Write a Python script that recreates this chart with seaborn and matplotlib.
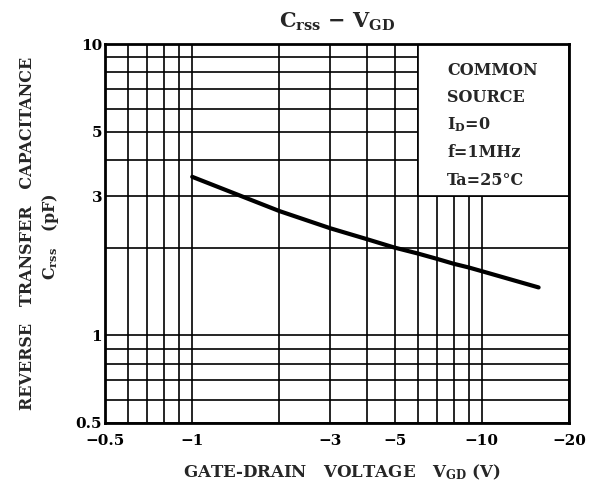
import numpy as np
import pandas as pd
import matplotlib
matplotlib.use("Agg")
import matplotlib.pyplot as plt
import seaborn as sns
from matplotlib.patches import Rectangle

# Crss vs VGD curve
vgd = [-1, -2, -3, -4, -5, -6, -7, -8, -9, -10, -15.7]
crss = [3.5, 2.67, 2.33, 2.14, 2.0, 1.91, 1.83, 1.76, 1.71, 1.66, 1.46]

# log-log paper: grid lines and labelled values
x_grid = [0.6, 0.7, 0.8, 0.9, 1, 2, 3, 4, 5, 6, 7, 8, 9, 10]
x_tick_vals = [0.5, 1, 3, 5, 10, 20]
x_tick_labels = ["−0.5", "−1", "−3", "−5", "−10", "−20"]
y_grid = [0.6, 0.7, 0.8, 0.9, 1, 2, 3, 4, 5, 6, 7, 8, 9]
y_tick_vals = [0.5, 1, 3, 5, 10]
y_tick_labels = ["0.5", "1", "3", "5", "10"]

conditions = ["COMMON", "SOURCE", r"I$_{\rm D}$=0", "f=1MHz", "Ta=25°C"]

sns.set_style("white")
plt.rcParams["font.family"] = ["DejaVu Serif"]
plt.rcParams["font.weight"] = "bold"
plt.rcParams["mathtext.fontset"] = "custom"
plt.rcParams["mathtext.rm"] = "DejaVu Serif:bold"
plt.rcParams["mathtext.it"] = "DejaVu Serif:bold"
plt.rcParams["mathtext.bf"] = "DejaVu Serif:bold"

df = pd.DataFrame({"V": np.abs(vgd), "C": crss})

fig = plt.figure(figsize=(5.94, 4.88), dpi=100)
ax = fig.add_axes([0.1768, 0.1332, 0.7812, 0.7766])

sns.lineplot(data=df, x="V", y="C", color="black", lw=3, ax=ax, zorder=3)

ax.set_xscale("log")
ax.set_yscale("log")
ax.set_xlim(0.5, 20)
ax.set_ylim(0.5, 10)

ax.set_xticks(x_tick_vals, x_tick_labels)
ax.set_xticks(x_grid, [""] * len(x_grid), minor=True)
ax.set_yticks(y_tick_vals, y_tick_labels)
ax.set_yticks(y_grid, [""] * len(y_grid), minor=True)
ax.tick_params(which="both", length=0, labelsize=11, colors="black")
ax.tick_params(axis="x", pad=8)
ax.tick_params(axis="y", pad=2)
ax.set_axisbelow(True)
ax.grid(which="both", color="black", lw=1.2)
for s in ax.spines.values():
    s.set_color("black")
    s.set_linewidth(2)

# white conditions box over the top-right grid
ax.add_patch(Rectangle((6, 3), 14, 7, facecolor="white", edgecolor="black",
                       lw=1.2, zorder=1))
for i, txt in enumerate(conditions):
    ax.text(0.737, 0.931 - i * 0.0725, txt, transform=ax.transAxes,
            fontsize=11.5, fontweight="bold", va="center", ha="left")

ax.set_xlabel(r"GATE-DRAIN   VOLTAGE   V$_{\rm GD}$ (V)", fontsize=12,
              fontweight="bold")
ax.xaxis.set_label_coords(0.51, -0.105)
ax.set_ylabel("")

fig.text(0.567, 0.955, r"C$_{\rm rss}$ $-$ V$_{\rm GD}$", fontsize=15,
         ha="center", va="center")
fig.text(0.046, 0.522, "REVERSE   TRANSFER   CAPACITANCE", rotation=90,
         fontsize=11.5, fontweight="bold", ha="center", va="center")
fig.text(0.085, 0.515, r"C$_{\rm rss}$   (pF)", rotation=90,
         fontsize=11.5, fontweight="bold", ha="center", va="center")

fig.savefig("out.png", dpi=100)
